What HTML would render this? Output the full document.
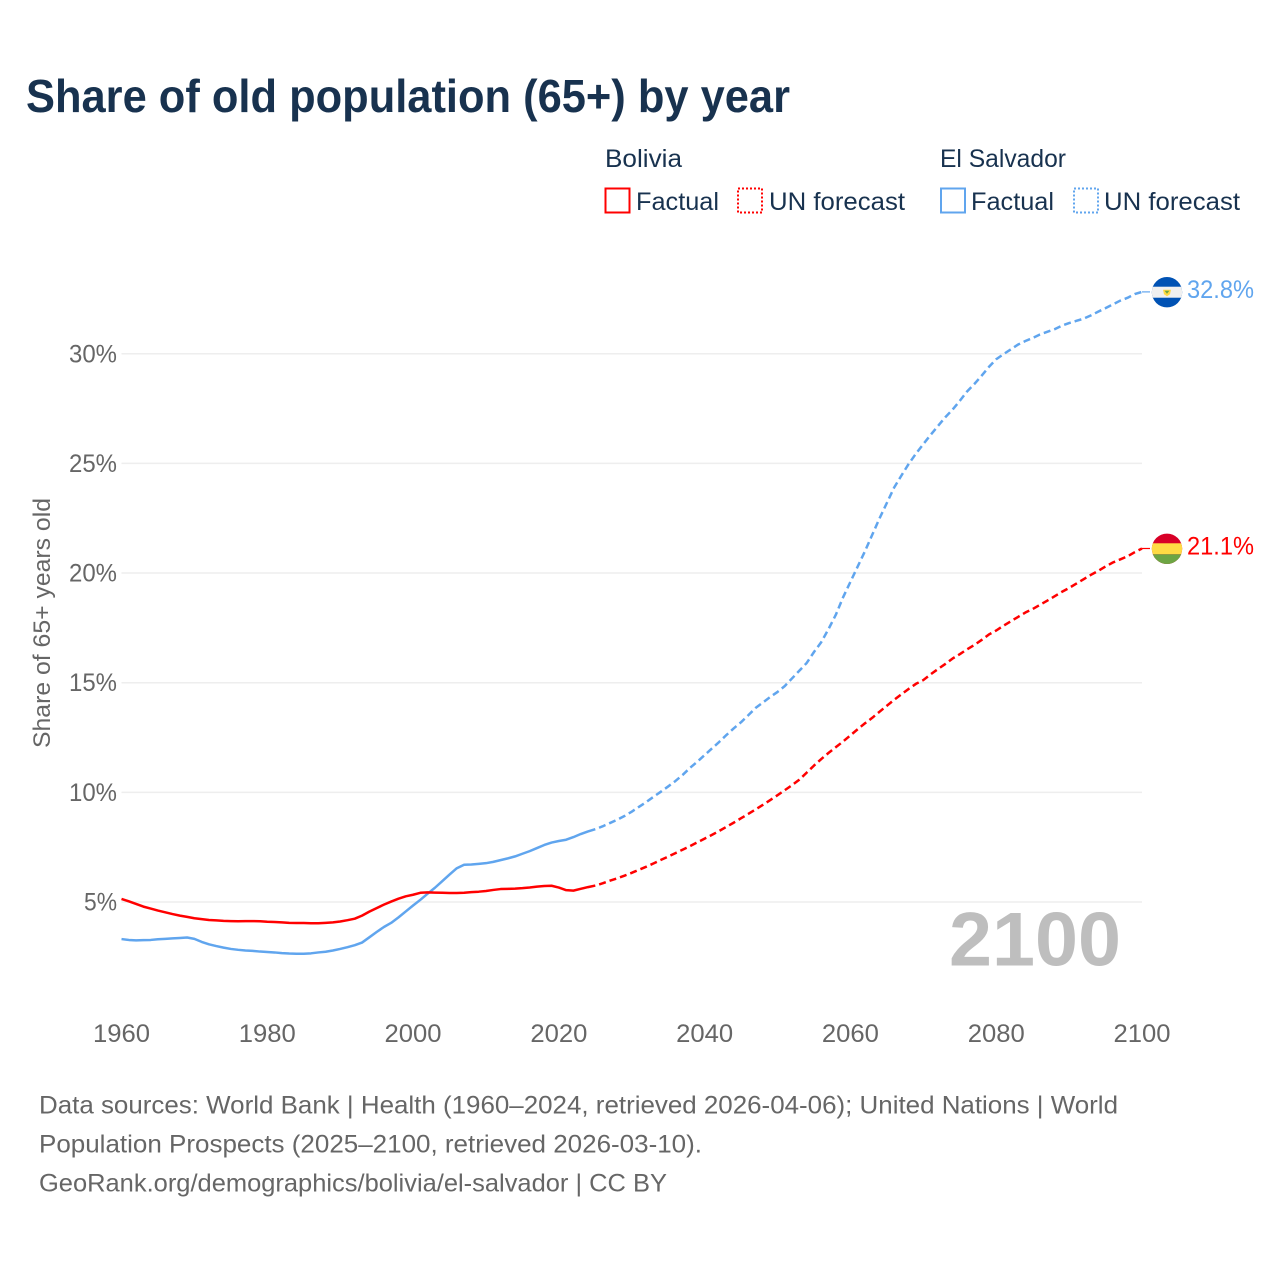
<!DOCTYPE html>
<html lang="en">
<head>
<meta charset="utf-8">
<title>Share of old population (65+) by year</title>
<style>
  html, body { margin: 0; padding: 0; background: #fff; }
  svg { display: block; }
  text { font-family: "Liberation Sans", sans-serif; }
</style>
</head>
<body>
<svg id="chart" xmlns="http://www.w3.org/2000/svg" width="1280" height="1280" viewBox="0 0 1280 1280">
  <rect width="1280" height="1280" fill="#ffffff"/>
  <text x="26" y="112" font-size="46" font-weight="700" fill="#18324f" textLength="764" lengthAdjust="spacingAndGlyphs">Share of old population (65+) by year</text>

  <g>
    <text x="605" y="167" font-size="25" fill="#18324f" textLength="77" lengthAdjust="spacingAndGlyphs">Bolivia</text>
    <text x="940" y="167" font-size="25" fill="#18324f" textLength="126" lengthAdjust="spacingAndGlyphs">El Salvador</text>
    <rect x="605.5" y="188.5" width="24" height="24" fill="none" stroke="#ff0000" stroke-width="2"/>
    <text x="636" y="210" font-size="25" fill="#18324f" textLength="83" lengthAdjust="spacingAndGlyphs">Factual</text>
    <rect x="738" y="188.5" width="24" height="24" fill="none" stroke="#ff0000" stroke-width="2" stroke-dasharray="2 2"/>
    <text x="769" y="210" font-size="25" fill="#18324f" textLength="136" lengthAdjust="spacingAndGlyphs">UN forecast</text>
    <rect x="941" y="188.5" width="24" height="24" fill="none" stroke="#60a5ee" stroke-width="2"/>
    <text x="971" y="210" font-size="25" fill="#18324f" textLength="83" lengthAdjust="spacingAndGlyphs">Factual</text>
    <rect x="1074" y="188.5" width="24" height="24" fill="none" stroke="#60a5ee" stroke-width="2" stroke-dasharray="2 2"/>
    <text x="1104" y="210" font-size="25" fill="#18324f" textLength="136" lengthAdjust="spacingAndGlyphs">UN forecast</text>
  </g>

  <g id="grid"></g>
  <g id="yticks"></g>
  <g id="xticks"></g>

  <text transform="translate(50,623) rotate(-90)" text-anchor="middle" font-size="24" fill="#666666" textLength="250" lengthAdjust="spacingAndGlyphs">Share of 65+ years old</text>

  <text x="1121" y="965.5" text-anchor="end" font-size="76" font-weight="700" fill="#bebebe" textLength="172" lengthAdjust="spacingAndGlyphs">2100</text>

  <g id="series"></g>

  <defs>
    <clipPath id="flag-clip"><circle cx="0" cy="0" r="15.2"/></clipPath>
  </defs>
  <g id="flag-sv">
    <g clip-path="url(#flag-clip)">
      <rect x="-16" y="-16" width="32" height="32" fill="#0052b4"/>
      <rect x="-16" y="-5.5" width="32" height="11" fill="#f0f0f0"/>
      <path d="M-4 -2.5 H4 L3 2 L0 4 L-3 2 Z" fill="#ffda44"/>
      <path d="M-2.4 -1.5 H2.4 L0 1.5 Z" fill="#6da544"/>
    </g>
  </g>
  <g id="flag-bo">
    <g clip-path="url(#flag-clip)">
      <rect x="-16" y="-16" width="32" height="32" fill="#d80027"/>
      <rect x="-16" y="-5.5" width="32" height="11" fill="#ffda44"/>
      <rect x="-16" y="5.5" width="32" height="11" fill="#6da544"/>
    </g>
  </g>
  <g id="end-labels"></g>

  <g font-size="25" fill="#666666">
    <text x="39" y="1113.5" textLength="1079" lengthAdjust="spacingAndGlyphs">Data sources: World Bank | Health (1960–2024, retrieved 2026-04-06); United Nations | World</text>
    <text x="39" y="1152.5" textLength="663" lengthAdjust="spacingAndGlyphs">Population Prospects (2025–2100, retrieved 2026-03-10).</text>
    <text x="39" y="1191.5" textLength="628" lengthAdjust="spacingAndGlyphs">GeoRank.org/demographics/bolivia/el-salvador | CC BY</text>
  </g>
</svg>
<script>
const xTicks = [1960, 1980, 2000, 2020, 2040, 2060, 2080, 2100];
const yTicks = [5, 10, 15, 20, 25, 30];
const factualStartYear = 1960;
const forecastStartYear = 2025;

const boliviaFactual = [
  5.14, 5.03, 4.91, 4.79, 4.70, 4.61, 4.53, 4.45, 4.38, 4.32,
  4.26, 4.22, 4.18, 4.16, 4.14, 4.13, 4.12, 4.13, 4.13, 4.12,
  4.10, 4.09, 4.07, 4.05, 4.04, 4.04, 4.03, 4.03, 4.05, 4.07,
  4.11, 4.17, 4.24, 4.38, 4.56, 4.72, 4.88, 5.02, 5.15, 5.26,
  5.33, 5.42, 5.44, 5.43, 5.42, 5.41, 5.41, 5.42, 5.45, 5.47,
  5.50, 5.55, 5.59, 5.60, 5.61, 5.63, 5.66, 5.70, 5.73, 5.74,
  5.66, 5.54, 5.52, 5.60, 5.68, 5.75
];
const boliviaForecast = [
  5.75, 5.85, 5.97, 6.08, 6.20,
  6.33, 6.47, 6.61, 6.76, 6.92,
  7.07, 7.23, 7.39, 7.55, 7.72,
  7.89, 8.06, 8.24, 8.43, 8.62,
  8.82, 9.02, 9.22, 9.43, 9.65,
  9.87, 10.10, 10.33, 10.58, 10.90,
  11.22, 11.52, 11.80, 12.06, 12.32,
  12.60, 12.88, 13.15, 13.40, 13.68,
  13.95, 14.22, 14.47, 14.72, 14.95,
  15.12, 15.38, 15.62, 15.85, 16.10,
  16.30, 16.52, 16.72, 16.95, 17.20,
  17.38, 17.60, 17.80, 18.00, 18.20,
  18.36, 18.55, 18.74, 18.94, 19.14,
  19.32, 19.52, 19.72, 19.92, 20.10,
  20.30, 20.48, 20.62, 20.76, 20.95,
  21.12
];
const elSalvadorFactual = [
  3.31, 3.27, 3.25, 3.26, 3.27, 3.30, 3.32, 3.34, 3.36, 3.38,
  3.32, 3.18, 3.07, 2.99, 2.92, 2.86, 2.82, 2.79, 2.77, 2.74,
  2.72, 2.70, 2.67, 2.65, 2.64, 2.64, 2.66, 2.70, 2.73, 2.79,
  2.86, 2.94, 3.03, 3.15, 3.39, 3.63, 3.86, 4.05, 4.30, 4.57,
  4.84, 5.10, 5.38, 5.65, 5.95, 6.25, 6.54, 6.70, 6.71, 6.74,
  6.77, 6.83, 6.91, 6.99, 7.08, 7.20, 7.32, 7.46, 7.60, 7.71,
  7.78, 7.84, 7.96, 8.10, 8.22, 8.32
];
const elSalvadorForecast = [
  8.32, 8.45, 8.60, 8.75, 8.92,
  9.12, 9.34, 9.56, 9.80, 10.03,
  10.27, 10.52, 10.80, 11.12, 11.40,
  11.70, 12.00, 12.30, 12.62, 12.92,
  13.20, 13.52, 13.85, 14.10, 14.35,
  14.58, 14.85, 15.20, 15.55, 15.90,
  16.40, 16.85, 17.45, 18.10, 18.90,
  19.60, 20.30, 21.00, 21.75, 22.50,
  23.20, 23.90, 24.45, 24.98, 25.45,
  25.88, 26.30, 26.70, 27.10, 27.45,
  27.85, 28.28, 28.62, 29.00, 29.40,
  29.75, 29.98, 30.20, 30.42, 30.58,
  30.72, 30.88, 31.00, 31.12, 31.28,
  31.40, 31.50, 31.60, 31.75, 31.92,
  32.08, 32.25, 32.42, 32.55, 32.72,
  32.82
];

const NS = 'http://www.w3.org/2000/svg';
const RED = '#ff0000';
const BLUE = '#60a5ee';

function xScale(year) { return 121.5 + (year - 1960) * (1142 - 121.5) / 140; }
function yScale(value) { return 902 - (value - 5) * 21.93; }

function linePath(startYear, values) {
  return values.map(function (v, i) {
    return (i ? 'L' : 'M') + xScale(startYear + i).toFixed(2) + ' ' + yScale(v).toFixed(2);
  }).join(' ');
}

const grid = document.getElementById('grid');
const yTickGroup = document.getElementById('yticks');
const xTickGroup = document.getElementById('xticks');
const seriesGroup = document.getElementById('series');
const endLabels = document.getElementById('end-labels');

yTicks.forEach(function (t) {
  const line = document.createElementNS(NS, 'line');
  
  
  line.setAttribute('x1', xScale(1960));
  line.setAttribute('x2', xScale(2100));
  line.setAttribute('y1', yScale(t));
  line.setAttribute('y2', yScale(t));
  line.setAttribute('stroke', '#eeeeee');
  line.setAttribute('stroke-width', '1.5');
  grid.appendChild(line);

  const label = document.createElementNS(NS, 'text');
  
  
  label.setAttribute('x', 117);
  label.setAttribute('y', yScale(t) + 8.5);
  label.setAttribute('text-anchor', 'end');
  label.setAttribute('font-size', '25');
  label.setAttribute('fill', '#666666');
  label.setAttribute('textLength', String(t).length > 1 ? '48' : '33');
  label.setAttribute('lengthAdjust', 'spacingAndGlyphs');
  label.textContent = t + '%';
  yTickGroup.appendChild(label);
});

xTicks.forEach(function (t) {
  const label = document.createElementNS(NS, 'text');
  
  
  label.setAttribute('x', xScale(t));
  label.setAttribute('y', 1042);
  label.setAttribute('text-anchor', 'middle');
  label.setAttribute('font-size', '25');
  label.setAttribute('fill', '#666666');
  label.setAttribute('textLength', '57');
  label.setAttribute('lengthAdjust', 'spacingAndGlyphs');
  label.textContent = t;
  xTickGroup.appendChild(label);
});

function addLine(startYear, values, color, dashed, name) {
  const path = document.createElementNS(NS, 'path');
  
  
  path.setAttribute('d', linePath(startYear, values));
  path.setAttribute('fill', 'none');
  path.setAttribute('stroke', color);
  path.setAttribute('stroke-width', '2.5');
  path.setAttribute('stroke-linejoin', 'round');
  if (dashed) {
    path.setAttribute('stroke-dasharray', '7 4');
    path.setAttribute('stroke-dashoffset', '7');
  }
  seriesGroup.appendChild(path);
}

addLine(factualStartYear, elSalvadorFactual, BLUE, false, 'el-salvador-factual-line');
addLine(forecastStartYear, elSalvadorForecast, BLUE, true, 'el-salvador-forecast-line');
addLine(factualStartYear, boliviaFactual, RED, false, 'bolivia-factual-line');
addLine(forecastStartYear, boliviaForecast, RED, true, 'bolivia-forecast-line');

function addEnd(values, color, flagId, connectorName, labelName) {
  const last = values[values.length - 1];
  const py = yScale(last);
  const connector = document.createElementNS(NS, 'line');
  
  
  connector.setAttribute('x1', xScale(2100));
  connector.setAttribute('x2', 1150);
  connector.setAttribute('y1', py);
  connector.setAttribute('y2', py);
  connector.setAttribute('stroke', color);
  connector.setAttribute('stroke-width', '1.2');
  seriesGroup.appendChild(connector);

  document.getElementById(flagId).setAttribute('transform', 'translate(1167,' + (py + 0.3) + ')');

  const label = document.createElementNS(NS, 'text');
  
  
  label.setAttribute('x', 1187);
  label.setAttribute('y', py + 6);
  label.setAttribute('font-size', '25');
  label.setAttribute('fill', color);
  label.setAttribute('textLength', '67');
  label.setAttribute('lengthAdjust', 'spacingAndGlyphs');
  label.textContent = last.toFixed(1) + '%';
  endLabels.appendChild(label);
}

addEnd(elSalvadorForecast, BLUE, 'flag-sv', 'el-salvador-connector', 'el-salvador-end-label');
addEnd(boliviaForecast, RED, 'flag-bo', 'bolivia-connector', 'bolivia-end-label');
</script>
</body>
</html>
